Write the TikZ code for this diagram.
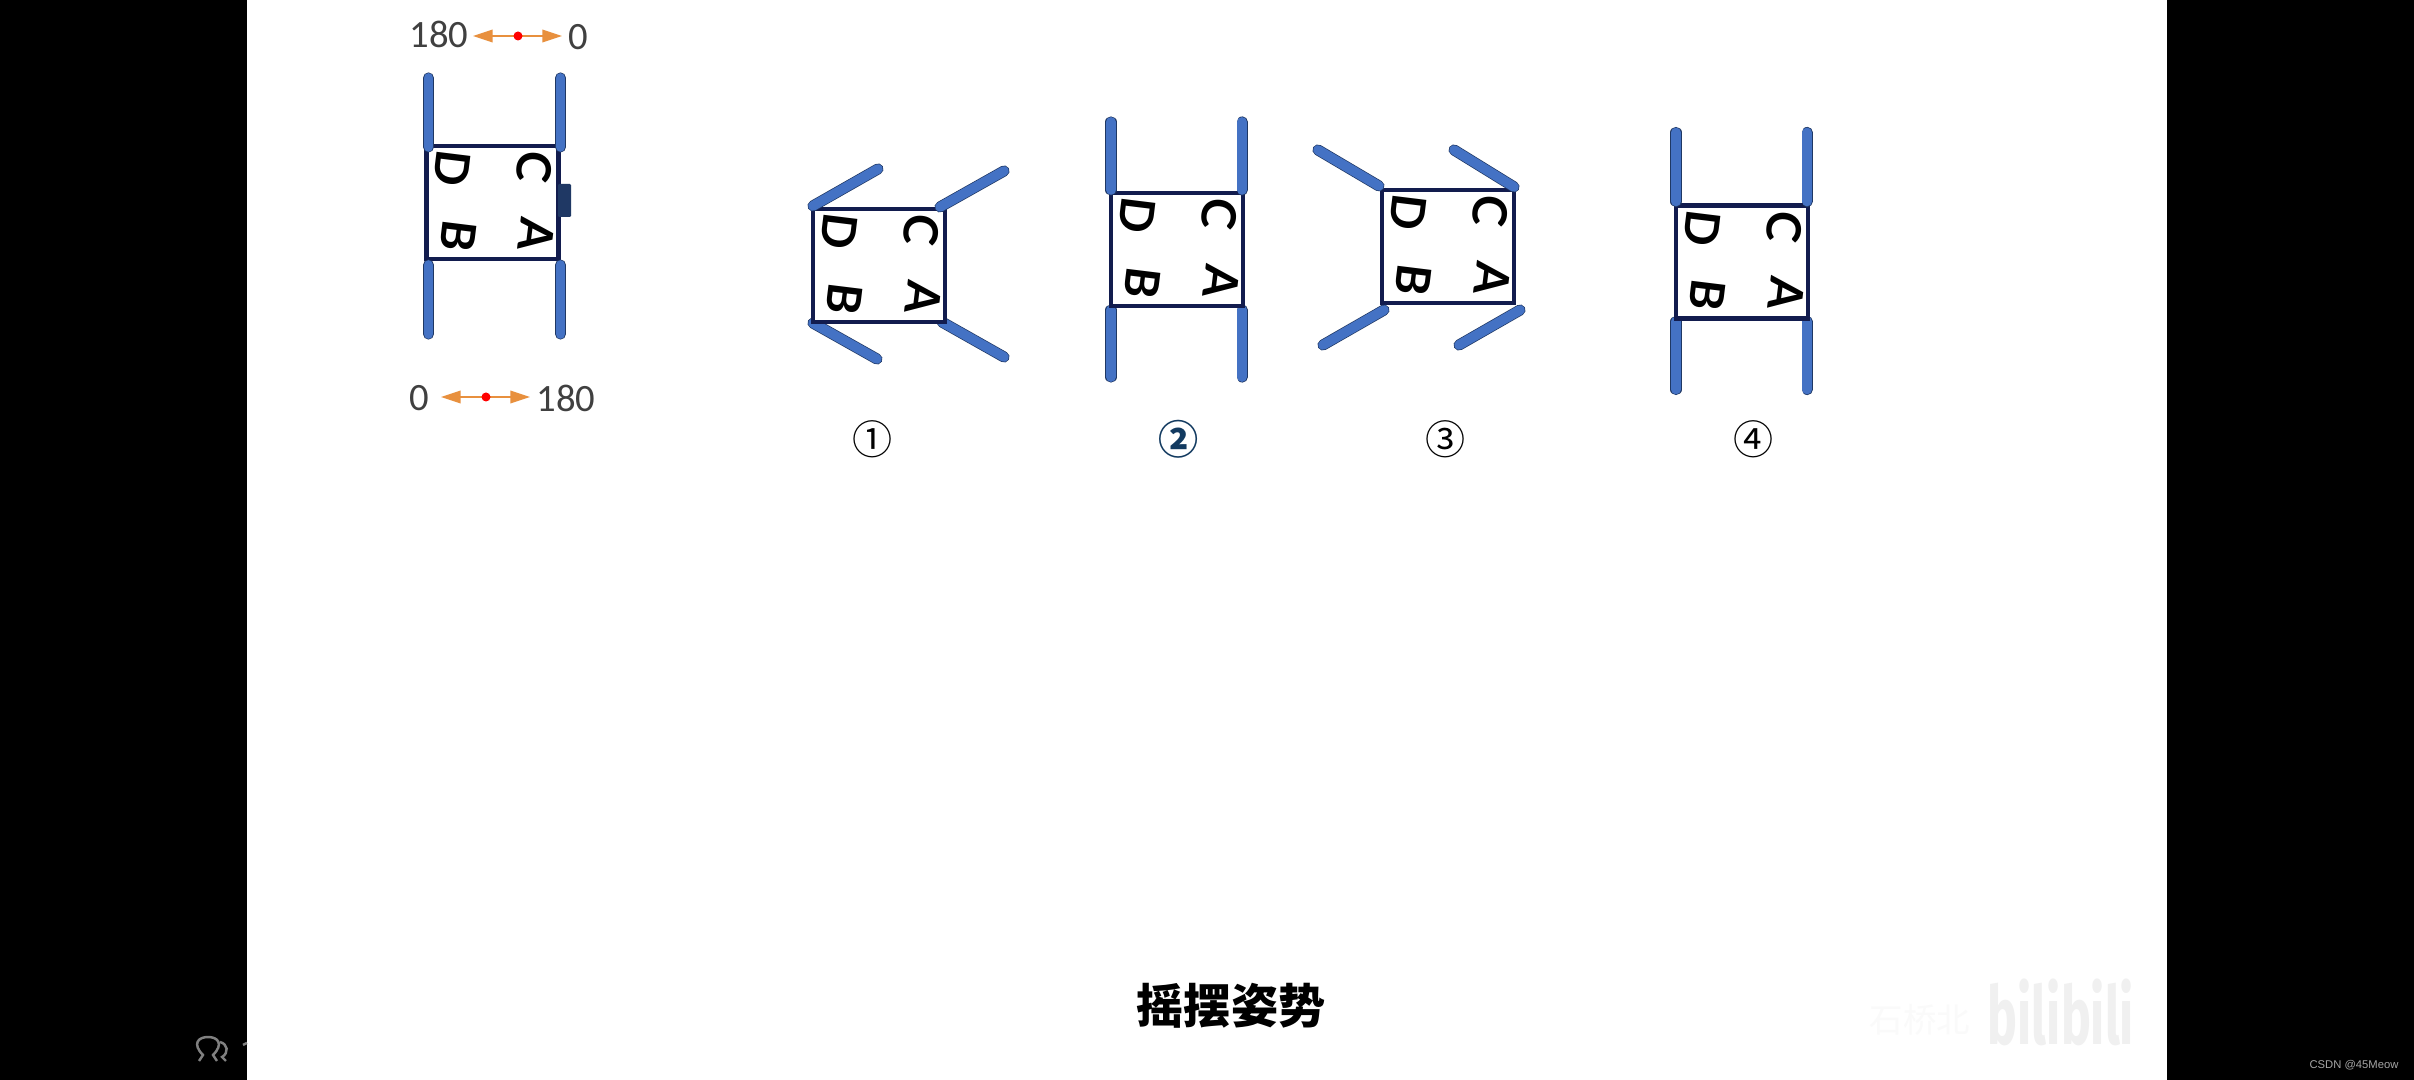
\documentclass[tikz,border=0pt]{standalone}
\usepackage{fontspec}
\usetikzlibrary{arrows.meta, positioning, backgrounds}
\setmainfont{Carlito}
\newfontfamily\letterfont{Lato}
\newfontfamily\cjkfont{Noto Sans CJK SC}
\newfontfamily\logofont{Fira Sans}
\newfontfamily\markfont{Liberation Sans}

\definecolor{legblue}{HTML}{4472C4}
\definecolor{legedge}{HTML}{1F3864}
\definecolor{bodyedge}{HTML}{121C4E}
\definecolor{tagblue}{HTML}{123A60}
\definecolor{swingorange}{HTML}{E8903E}

\tikzset{
    leg/.style={draw=legedge, line width=.2pt, double=legblue, double distance=2.75pt, line cap=round},
    bodybox/.style={draw=bodyedge, fill=white, line width=1.35pt, minimum width=1.32cm, minimum height=1.13cm, inner sep=0pt, outer sep=0pt},
    letter/.style={font=\letterfont\fontsize{13.4}{14}\bfseries\selectfont, text=black, rotate=-97, inner sep=0pt},
    tag/.style={font=\cjkfont\fontsize{11.4}{12}\selectfont, inner sep=0pt},
    anglelabel/.style={font=\fontsize{11}{12}\selectfont, text=black!75, inner sep=0pt},
    swing/.style={draw=swingorange, line width=.4pt, <->, >={Triangle[length=5.6pt,width=3.6pt]}, fill=swingorange},
    reddot/.style={circle, fill=red, minimum size=.09cm, inner sep=0pt},
    iconline/.style={draw=black!50!white, line width=.7pt}
}

% four letters in a body
\newcommand{\bodyletters}[1]{
    \node[letter] (#1D) at ([shift={(-40,-34)}]#1) {D};
    \node[letter] (#1C) at ([shift={(42,-35)}]#1) {C};
    \node[letter] (#1B) at ([shift={(-34,33)}]#1) {B};
    \node[letter] (#1A) at ([shift={(44,32)}]#1) {A};
}

\begin{document}
\begin{tikzpicture}[x=.01cm, y=-.01cm]
    \begin{scope}[on background layer]
        \fill[black] (0,0) rectangle (2414,1080);
        \fill[white] (247,0) rectangle (2167,1080);
    \end{scope}

    % reference pose
    \node[bodybox] (base) at (492.5,202.5) {};
    \fill[legedge, rounded corners=.3pt] (558,184) rectangle (571,217);
    \bodyletters{base}
    \draw[leg] ([shift={(2,1)}]base.north west) -- ++(0,-69);
    \draw[leg] ([shift={(2,1)}]base.north east) -- ++(0,-69);
    \draw[leg] ([shift={(2,6)}]base.south west) -- ++(0,69);
    \draw[leg] ([shift={(2,6)}]base.south east) -- ++(0,69);

    % pose 1
    \node[bodybox] (one) at (879,265.5) {};
    \bodyletters{one}
    \begin{scope}[on background layer]
        \draw[leg] ([shift={(0,1)}]one.south west) -- ++(64,36);
        \draw[leg] ([shift={(-3,0)}]one.south east) -- ++(62,35);
    \end{scope}
    \draw[leg] ([shift={(0,-3)}]one.north west) -- ++(65,-37);
    \draw[leg] ([shift={(-5,-2)}]one.north east) -- ++(64,-36);

    % pose 2
    \node[bodybox] (two) at (1177,249.5) {};
    \bodyletters{two}
    \begin{scope}[on background layer]
        \draw[leg] ([shift={(0,4)}]two.south west) -- ++(0,67);
        \draw[leg] ([shift={(-1,4)}]two.south east) -- ++(0,67);
    \end{scope}
    \draw[leg] ([shift={(0,-3)}]two.north west) -- ++(0,-68);
    \draw[leg] ([shift={(-1,-3)}]two.north east) -- ++(0,-68);

    % pose 3
    \node[bodybox] (three) at (1448,246.5) {};
    \bodyletters{three}
    \draw[leg] ([shift={(-3,-4)}]three.north west) -- ++(-61,-36);
    \draw[leg] ([shift={(0,-3)}]three.north east) -- ++(-60,-37);
    \draw[leg] ([shift={(2,7)}]three.south west) -- ++(-61,35);
    \draw[leg] ([shift={(6,7)}]three.south east) -- ++(-61,35);

    % pose 4
    \node[bodybox] (four) at (1742,262) {};
    \bodyletters{four}
    \begin{scope}[on background layer]
        \draw[leg] ([shift={(0,3)}]four.south west) -- ++(0,68);
        \draw[leg] ([shift={(-1,3)}]four.south east) -- ++(0,68);
    \end{scope}
    \draw[leg] ([shift={(0,-4)}]four.north west) -- ++(0,-69);
    \draw[leg] ([shift={(-1,-4)}]four.north east) -- ++(0,-69);

    % swing ranges
    \node[anglelabel] (topfar) at (439,34) {180};
    \node[anglelabel] (topzero) at (578,37) {0};
    \coordinate (topL) at (473,36);
    \coordinate (topR) at (562,36);
    \draw[swing] (topL) -- (topR);
    \node[reddot] (topdot) at (518,36) {};

    \node[anglelabel] (lowzero) at (419,398) {0};
    \node[anglelabel] (lowfar) at (566,398) {180};
    \coordinate (lowL) at (441,397);
    \coordinate (lowR) at (530,397);
    \draw[swing] (lowL) -- (lowR);
    \node[reddot] (lowdot) at (486,397) {};

    % pose numbers
    \node[tag] (tag1) at (873,439) {①};
    \node[tag, text=tagblue] (tag2) at (1179,439) {\textbf{②}};
    \node[tag] (tag3) at (1446,439) {③};
    \node[tag] (tag4) at (1754,439) {④};

    \node[font=\cjkfont\fontsize{13.4}{14}\bfseries\selectfont, inner sep=0pt] (title) at (1231,1006) {摇摆姿势};

    % watermark
    \node[font=\cjkfont\fontsize{9.5}{10}\selectfont, text=black!2, inner sep=0pt] (wmname) at (1920,1020) {石桥北};
    \node[font=\logofont\fontsize{23}{24}\bfseries\selectfont, text=black!6, inner sep=0pt] (wmlogo) at (2061,1012) {\scalebox{.62}[1]{bilibili}};
    \node[font=\markfont\fontsize{3.2}{4}\selectfont, text=black!35!white, inner sep=0pt] (csdn) at (2354,1065) {CSDN @45Meow};

    % icon on the black margin
    \draw[iconline] (199,1061) -- (203,1055) .. controls (192,1044) and (198,1037) .. (208,1037) .. controls (218,1037) and (224,1044) .. (213,1055) -- (217,1061);
    \draw[iconline] (220,1042) .. controls (228,1044) and (229,1053) .. (222,1057) -- (226,1061);
    \draw[iconline] (243,1045) -- (247,1043);
\end{tikzpicture}
\end{document}
